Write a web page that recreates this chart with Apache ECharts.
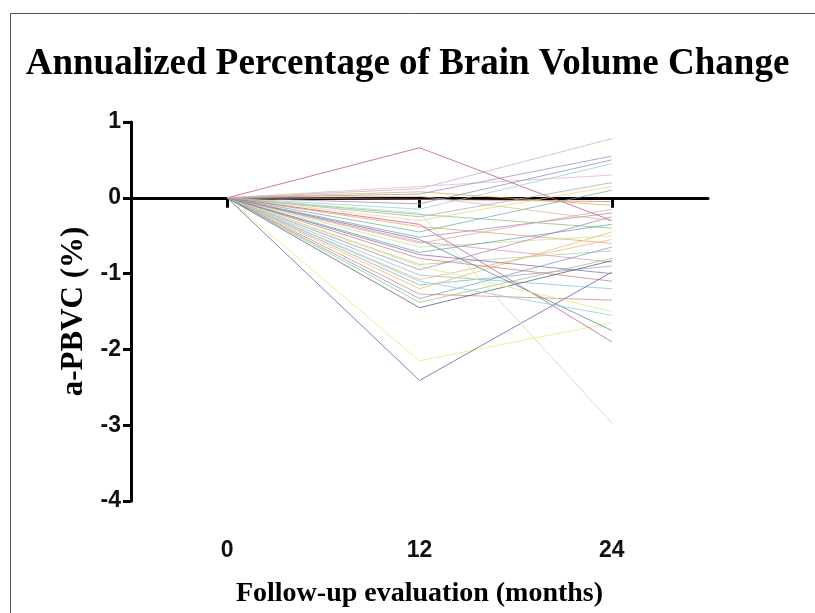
<!DOCTYPE html>
<html>
<head>
<meta charset="utf-8">
<script src="https://cdn.jsdelivr.net/npm/echarts@6/dist/echarts.min.js"></script>
<style>
html, body { margin: 0; padding: 0; background: #fff; }
#main { width: 815px; height: 613px; }
</style>
</head>
<body>
<div id="main"></div>
<script>
var months = [0, 12, 24];
var month_labels = ['0', '12', '24'];
// a-PBVC at 12 and 24 months, one entry per patient (0 at baseline)
var m12 = [0.66, 0.12, 0.08, 0.15, 0.05, -0.02, -0.08, -0.15, -0.22, -0.30, -0.38, -0.45, -0.52, -0.58, -0.65, -0.72, -0.80, -0.88, -0.95, -1.02, -1.08, -1.15, -1.20, -1.27, -1.33, -1.38, -1.45, -2.15, -2.41, -0.20, -0.55, -0.35, -0.90, -1.10, -0.60, -0.25, 0.02, -0.75];
var m24 = [-0.30, 0.78, -0.10, 0.30, 0.55, -0.05, 0.50, 0.45, -0.40, 0.15, -0.60, 0.10, -0.20, -0.85, -0.50, -0.35, -1.10, -0.70, -0.25, -1.20, -0.55, -0.90, -0.45, -1.35, -0.65, -0.80, -0.83, -1.65, -0.98, -2.97, -1.75, -1.90, -1.50, -1.55, -0.15, 0.20, -0.30, -1.00];

var palette = ['#c24a8e', '#b9b2cc', '#d8b040', '#e6b0d0', '#9a8cc0', '#e07070', '#8890b8', '#a0c8d8',
    '#7cc47a', '#e8d870', '#f0a060', '#70b0a0', '#9090c8', '#e090b8', '#c8e090', '#60a0b0',
    '#d87878', '#a0d0a0', '#b080b0', '#80c0e0', '#f0b080', '#9aa0d0', '#e0c060', '#e08080',
    '#70a0c0', '#a0c070', '#505880', '#f0e470', '#5a5aa8', '#b0e4a0', '#508888', '#c05a90',
    '#d8e880', '#80d0d0', '#e8a0a0', '#a8a8d0', '#d0c080', '#8070a0'];

var chart = echarts.init(document.getElementById('main'));

var series = [];
for (var i = 0; i < m12.length; i++) {
    series.push({
        type: 'line',
        xAxisIndex: 0,
        data: [[months[0], 0], [months[1], m12[i]], [months[2], m24[i]]],
        symbol: 'none',
        silent: true,
        lineStyle: { width: 1, color: palette[i % palette.length], opacity: 0.75 }
    });
}

var bold_sans = { fontFamily: 'Liberation Sans', fontWeight: 'bold', fontSize: 23, color: '#111' };

var option = {
    animation: false,
    graphic: [{
        type: 'rect',
        left: 8, top: 11,
        shape: { width: 820, height: 620 },
        style: { fill: 'none', stroke: '#555', lineWidth: 1 }
    }],
    title: {
        text: 'Annualized Percentage of Brain Volume Change',
        left: 'center',
        top: 41,
        textStyle: { fontFamily: 'Liberation Serif', fontWeight: 'bold', fontSize: 37, color: '#000' }
    },
    grid: { left: 131, right: 107, top: 122, bottom: 102 },
    xAxis: [{
        type: 'value',
        min: -6, max: 30,
        axisLine: { onZero: true, lineStyle: { color: '#000', width: 3 } },
        axisTick: { show: true, customValues: months, length: 10, lineStyle: { color: '#000', width: 3 } },
        axisLabel: { show: false },
        splitLine: { show: false }
    }, {
        type: 'value',
        min: -6, max: 30,
        position: 'bottom',
        axisLine: { show: false, onZero: false },
        axisTick: { show: false },
        axisLabel: Object.assign({
            customValues: months,
            margin: 38,
            formatter: function (v) { return month_labels[months.indexOf(v)]; }
        }, bold_sans),
        splitLine: { show: false },
        name: 'Follow-up evaluation (months)',
        nameLocation: 'middle',
        nameGap: 79,
        nameTextStyle: { fontFamily: 'Liberation Serif', fontWeight: 'bold', fontSize: 28, color: '#000' }
    }],
    yAxis: {
        type: 'value',
        min: -4, max: 1, interval: 1,
        axisLine: { show: true, onZero: false, lineStyle: { color: '#000', width: 3 } },
        axisTick: { show: true, length: 8, lineStyle: { color: '#000', width: 3 } },
        axisLabel: Object.assign({ margin: 10 }, bold_sans),
        splitLine: { show: false },
        name: 'a-PBVC (%)',
        nameLocation: 'middle',
        nameGap: 32,
        nameTextStyle: { fontFamily: 'Liberation Serif', fontWeight: 'bold', fontSize: 31, color: '#000' }
    },
    series: series
};

chart.setOption(option);
</script>
</body>
</html>
